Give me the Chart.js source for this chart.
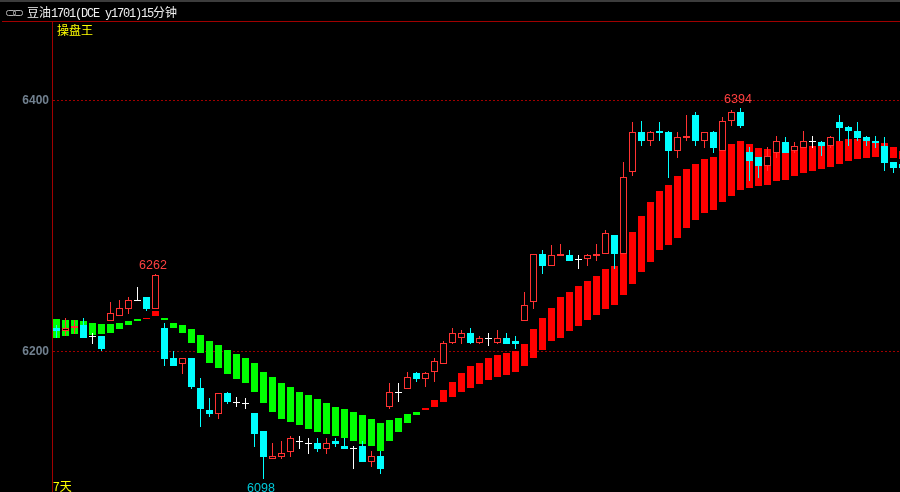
<!DOCTYPE html>
<html>
<head>
<meta charset="utf-8">
<title>豆油1701</title>
<script src="https://cdn.jsdelivr.net/npm/chart.js@4/dist/chart.umd.min.js"></script>
<style>
  html, body { margin: 0; padding: 0; background: #000; overflow: hidden; }
  #wrap { position: relative; width: 900px; height: 492px; }
  #chart { position: absolute; left: 0; top: 0; }
  #strip { position: absolute; left: 0; top: 0; width: 900px; height: 2px; background: #3c3c3c; }
  #rule { position: absolute; left: 2px; top: 21px; width: 898px; height: 1px; background: #a00000; }
  #title { position: absolute; left: 27px; top: 4px; color: #f0f0f0; line-height: 16px; white-space: nowrap;
           font: 12px/16px "Noto Sans CJK SC"; }
  #title span { font: 12px/16px "Liberation Mono"; letter-spacing: -1.2px; }
  #link { position: absolute; left: 6px; top: 10px; }
  .tag { position: absolute; color: #ffff00; font: 12px/14px "Noto Sans CJK SC"; white-space: nowrap; }
</style>
</head>
<body>
<div id="wrap">
  <canvas id="chart" width="900" height="492"></canvas>
  <div id="strip"></div>
  <div id="rule"></div>
  <svg id="link" width="17" height="6"><rect x="0.5" y="0.5" width="9" height="5" rx="2" fill="none" stroke="#b0b0b0"/><rect x="7.5" y="0.5" width="9" height="5" rx="2" fill="none" stroke="#b0b0b0"/></svg>
  <div id="title">豆油<span>1701(DCE y1701)15</span>分钟</div>
  <div class="tag" style="left:57px;top:23px">操盘王</div>
  <div class="tag" style="left:53px;top:479px">7天</div>
</div>
<script>
/* CANDLES */
const opens = [6219,6216,6219,6221,6212,6212,6224,6228,6234,6241,6243,6234,6219,6195,6190,6195,6171,6153,6150,6167,6160,6159,6151,6137,6114,6116,6120,6129,6127,6127,6122,6129,6125,6123,6125,6112,6117,6156,6168,6170,6183,6178,6184,6190,6207,6211,6215,6207,6211,6207,6211,6208,6224,6239,6278,6268,6276,6277,6274,6274,6276,6278,6293,6278,6343,6375,6368,6376,6375,6360,6370,6388,6368,6375,6360,6384,6391,6359,6355,6348,6358,6367,6360,6362,6368,6367,6364,6383,6379,6376,6371,6368,6364,6351,6349];
const highs = [6221,6227,6225,6227,6215,6212,6239,6241,6243,6251,6243,6262,6223,6200,6195,6195,6179,6163,6167,6168,6164,6163,6151,6137,6127,6129,6133,6133,6131,6131,6131,6131,6131,6125,6129,6121,6121,6175,6175,6184,6184,6184,6195,6208,6219,6217,6219,6212,6215,6217,6215,6212,6247,6278,6281,6285,6286,6281,6277,6278,6286,6297,6293,6351,6383,6384,6376,6383,6376,6375,6388,6391,6375,6376,6387,6392,6394,6363,6355,6363,6372,6371,6367,6376,6372,6368,6372,6388,6380,6383,6372,6372,6371,6351,6349];
const lows = [6211,6212,6214,6211,6206,6200,6224,6228,6230,6240,6232,6234,6188,6188,6182,6170,6140,6148,6146,6158,6156,6154,6124,6098,6114,6114,6116,6122,6118,6120,6118,6124,6122,6106,6112,6108,6102,6154,6160,6170,6176,6172,6176,6190,6206,6206,6206,6206,6204,6206,6206,6202,6224,6234,6262,6268,6276,6272,6266,6268,6272,6278,6266,6278,6340,6364,6364,6368,6338,6354,6368,6364,6362,6358,6360,6380,6378,6336,6338,6344,6354,6358,6358,6362,6362,6356,6362,6368,6364,6368,6364,6362,6344,6342,6346];
const closes = [6216,6219,6220,6211,6212,6202,6231,6235,6241,6241,6234,6261,6194,6188,6195,6172,6154,6150,6167,6160,6160,6159,6134,6116,6117,6119,6131,6129,6127,6122,6127,6126,6122,6123,6112,6117,6106,6168,6168,6180,6178,6183,6192,6207,6215,6215,6207,6211,6211,6211,6206,6206,6237,6278,6268,6277,6278,6272,6274,6277,6278,6294,6278,6339,6375,6368,6375,6374,6360,6371,6372,6368,6375,6362,6384,6391,6380,6352,6348,6356,6368,6358,6364,6368,6368,6364,6371,6378,6376,6370,6368,6366,6350,6346,6346];

/* INDICATOR BAND: red while fast is above slow, green otherwise */
const bandFast = [6211,6212,6214,6214,6213,6214,6215,6218,6221,6224,6227,6232,6225,6219,6215,6207,6199,6191,6187,6182,6178,6175,6168,6159,6152,6146,6144,6141,6138,6136,6134,6133,6131,6129,6126,6125,6121,6129,6136,6143,6149,6155,6161,6169,6176,6183,6188,6191,6195,6197,6199,6200,6206,6218,6227,6235,6243,6247,6252,6256,6260,6266,6268,6278,6295,6308,6319,6328,6333,6340,6345,6349,6353,6355,6360,6365,6368,6365,6362,6361,6362,6363,6361,6363,6364,6364,6365,6368,6369,6369,6371,6368,6366,6363,6360];
const bandSlow = [6226,6225,6225,6224,6223,6222,6222,6223,6224,6226,6226,6228,6227,6223,6221,6218,6213,6208,6205,6201,6198,6195,6191,6184,6180,6175,6172,6168,6165,6162,6159,6156,6154,6152,6149,6146,6143,6145,6147,6150,6152,6153,6156,6160,6164,6168,6171,6174,6177,6180,6181,6184,6188,6195,6201,6208,6211,6216,6220,6225,6229,6234,6237,6245,6254,6263,6271,6281,6285,6290,6298,6305,6310,6313,6319,6324,6329,6330,6332,6333,6336,6337,6340,6342,6344,6345,6347,6349,6352,6353,6354,6355,6354,6354,6353];

/* AXIS AND MARKS */
const priceTicks = [6200, 6400];
const highMarks = [11, 76];
const lowMarks = [23];

const RED = "#ff3232", CYAN = "#00ffff", WHITE = "#ffffff";
const candleColor = i => closes[i] > opens[i] ? RED : closes[i] < opens[i] ? CYAN : WHITE;
const xs = opens.map((_, i) => i);

/* keeps the bars on whole pixels so the candles stay sharp */
const snapBars = {
  id: "snapBars",
  afterDatasetsUpdate(chart) {
    chart.getSortedVisibleDatasetMetas().forEach(meta => {
      meta.data.forEach(el => {
        el.x = Math.floor(el.x) + 0.5;
        el.y = Math.round(el.y);
        el.base = Math.round(el.base);
        if (el.base === el.y) el.base = el.y + 1;
      });
    });
  }
};

/* hi / lo numbers */
const markLabels = {
  id: "markLabels",
  afterDatasetsDraw(chart) {
    const { ctx, scales: { x, y } } = chart;
    ctx.save();
    ctx.font = '12.5px "Liberation Sans"';
    ctx.textAlign = "center";
    ctx.textBaseline = "middle";
    ctx.fillStyle = "#ff4040";
    highMarks.forEach(i => ctx.fillText(highs[i], x.getPixelForValue(i) - 2.5, y.getPixelForValue(highs[i]) - 8));
    ctx.fillStyle = "#00c8d8";
    lowMarks.forEach(i => ctx.fillText(lows[i], x.getPixelForValue(i) - 2.5, y.getPixelForValue(lows[i]) + 9));
    ctx.restore();
  }
};

new Chart(document.getElementById("chart"), {
  type: "bar",
  data: {
    datasets: [
      {
        label: "body",
        order: 0,
        grouped: false,
        barThickness: 7,
        inflateAmount: 0,
        borderWidth: 1,
        borderSkipped: false,
        data: xs.map(i => ({ x: i, y: [opens[i], closes[i]] })),
        borderColor: xs.map(candleColor),
        backgroundColor: xs.map(i => closes[i] > opens[i] ? "#000000" : candleColor(i))
      },
      {
        label: "wick",
        order: 1,
        grouped: false,
        barThickness: 1,
        inflateAmount: 0,
        borderWidth: 0,
        data: xs.map(i => ({ x: i, y: [lows[i], highs[i]] })),
        backgroundColor: xs.map(candleColor)
      },
      {
        label: "band",
        order: 2,
        grouped: false,
        barThickness: 7,
        inflateAmount: 0,
        borderWidth: 0,
        data: xs.map(i => ({ x: i, y: [bandSlow[i], bandFast[i]] })),
        backgroundColor: xs.map(i => bandFast[i] > bandSlow[i] ? "#ff0000" : "#00ff00")
      }
    ]
  },
  options: {
    responsive: false,
    animation: false,
    events: [],
    layout: { autoPadding: false, padding: { top: 22 } },
    plugins: { legend: { display: false }, tooltip: { enabled: false } },
    scales: {
      x: { type: "linear", display: false, offset: false, min: -0.5, max: 93.7222 },
      y: {
        min: 6088,
        max: 6462.5,
        afterFit: s => { s.width = 52; s.paddingTop = 0; s.paddingBottom = 0; },
        afterBuildTicks: s => { s.ticks = priceTicks.map(value => ({ value })); },
        grid: { color: "#a00000", lineWidth: 1, drawTicks: false },
        border: { color: "#a00000", width: 1, dash: [2, 2] },
        ticks: {
          color: "#71808f",
          padding: 3,
          font: { family: "Liberation Sans", size: 12, weight: "bold" },
          callback: v => String(v)
        }
      }
    }
  },
  plugins: [snapBars, markLabels]
});
</script>
</body>
</html>
